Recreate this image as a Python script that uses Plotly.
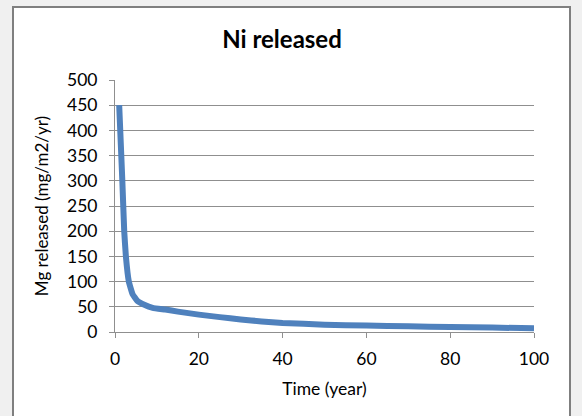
import plotly.graph_objects as go

# Data
time_year = [1, 1.75, 2.2, 2.6, 3.3, 4.2, 5.3, 7, 9, 12, 15, 20, 25, 30, 35, 40, 50, 60, 70, 80, 90, 100]
released = [450, 300, 200, 150, 100, 75, 62, 54, 48, 44.5, 40.5, 34.5, 29.5, 25, 21, 18, 14.5, 12.8, 11.2, 10, 8.7, 7.5]
x_ticks = [0, 20, 40, 60, 80, 100]
y_ticks = [0, 50, 100, 150, 200, 250, 300, 350, 400, 450, 500]

W, H = 582, 416
ML, MR, MT, MB = 115, 48, 80, 84
PW, PH = W - ML - MR, H - MT - MB

def px_to_paper_x(px):
    return (px - ML) / PW

def px_to_paper_y(py):
    return (H - MB - py) / PH

FONT = "Lato"
GRID = "#8f8f8f"

fig = go.Figure()
fig.add_trace(go.Scatter(
    x=time_year, y=released, mode="lines",
    line=dict(color="#4f81bd", width=6, shape="spline", smoothing=0.3),
    showlegend=False, hoverinfo="x+y",
))

fig.update_layout(
    width=W, height=H,
    margin=dict(l=ML, r=MR, t=MT, b=MB),
    paper_bgcolor="#f0f0f0",
    plot_bgcolor="rgba(0,0,0,0)",
    font=dict(family=FONT, size=17, color="#000000"),
    title=dict(text="<b>Ni released</b>", x=282 / W, xanchor="center",
               xref="container", y=1 - 40 / H, yanchor="middle", yref="container",
               font=dict(family=FONT, size=24, color="#000000")),
    shapes=[dict(type="rect", xref="paper", yref="paper", layer="below",
                 x0=px_to_paper_x(13), x1=px_to_paper_x(570),
                 y0=px_to_paper_y(425), y1=px_to_paper_y(7),
                 fillcolor="#ffffff", line=dict(color="#7f7f7f", width=2))],
    xaxis=dict(range=[0, 100], tickvals=x_ticks, showgrid=False, zeroline=False,
               showline=True, linecolor=GRID, linewidth=1,
               ticks="outside", ticklen=5, tickcolor=GRID, ticklabelstandoff=6,
               tickfont=dict(family=FONT, size=17.5),
               title=dict(text="Time (year)", standoff=14, font=dict(family=FONT, size=17.5))),
    yaxis=dict(range=[0, 500], tickvals=y_ticks, showgrid=True, gridcolor=GRID, gridwidth=1,
               zeroline=False, showline=True, linecolor=GRID, linewidth=1,
               ticks="outside", ticklen=5, tickcolor=GRID, ticklabelstandoff=8,
               tickfont=dict(family=FONT, size=17.5),
               title=dict(text="Mg released (mg/m2/yr)", standoff=14, font=dict(family=FONT, size=17))),
)

fig.write_html("out.html")
